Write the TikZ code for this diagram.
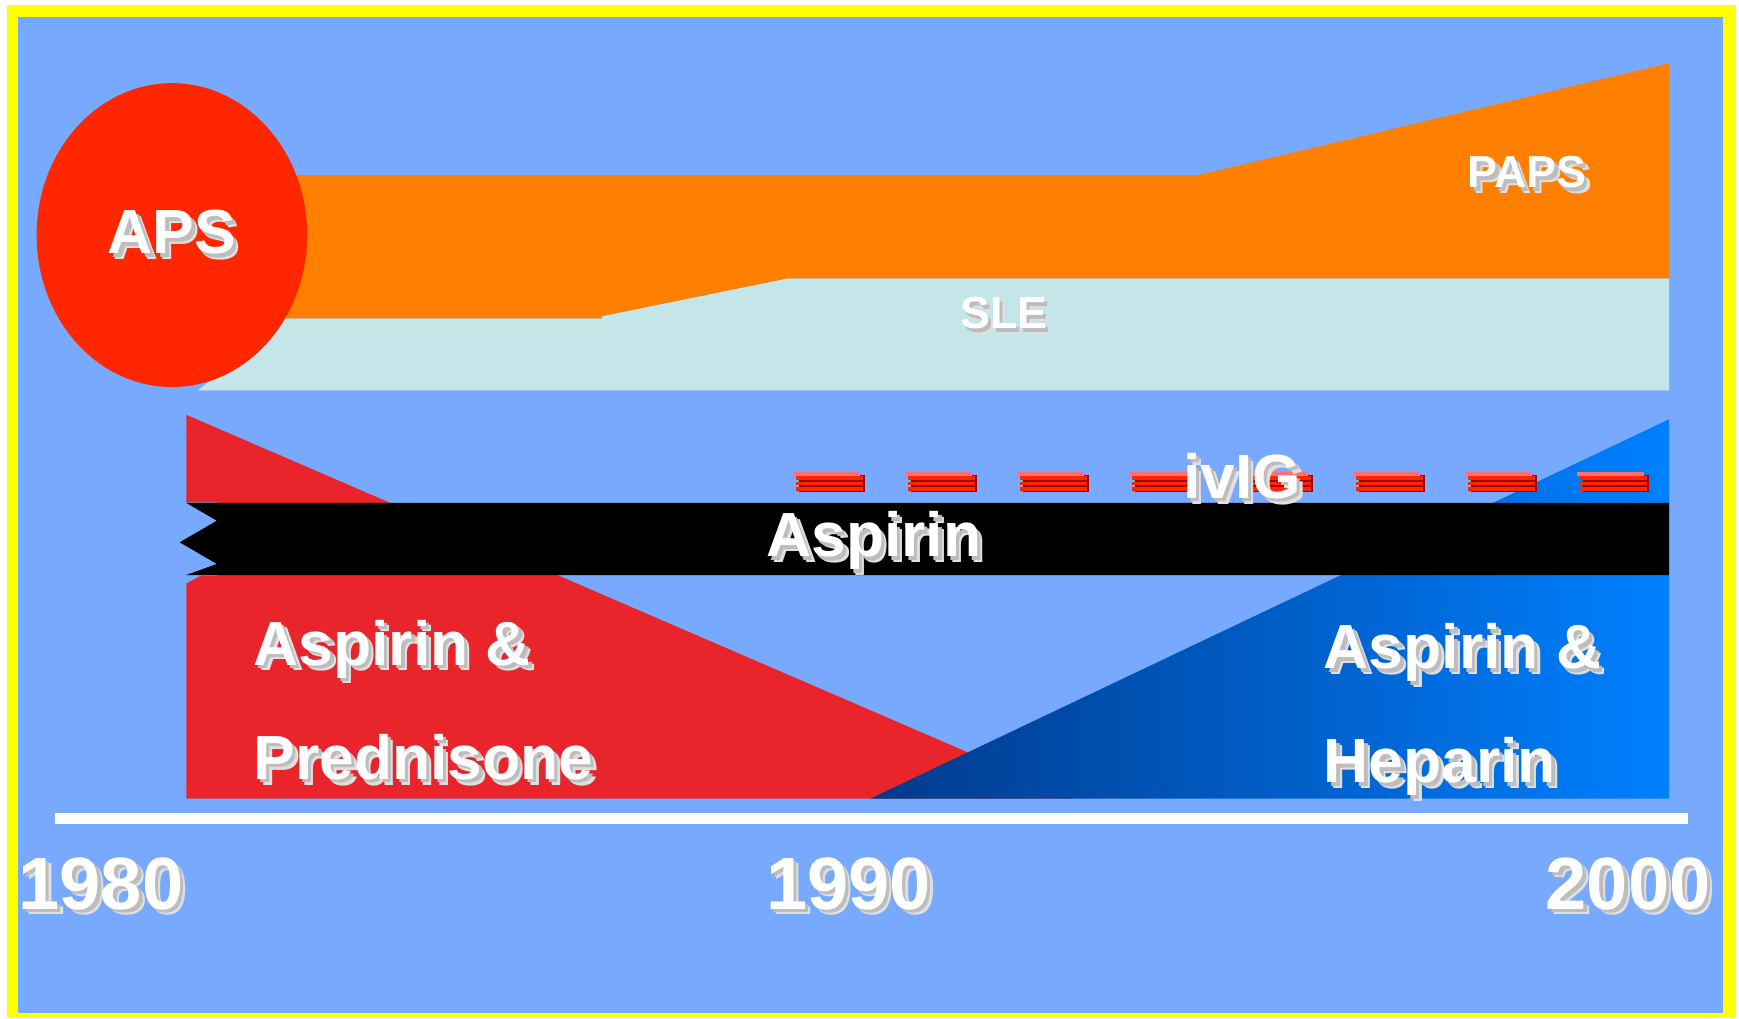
\documentclass[tikz,border=0pt]{standalone}
\usepackage{fontspec}
\setmainfont{Liberation Sans}
\usetikzlibrary{shapes.geometric}

\definecolor{slide}{RGB}{119,170,255}
\definecolor{frame}{RGB}{255,255,0}
\definecolor{apsred}{RGB}{255,38,0}
\definecolor{papsorange}{RGB}{255,127,0}
\definecolor{slecyan}{RGB}{196,230,232}
\definecolor{predred}{RGB}{233,36,42}
\definecolor{hepdark}{RGB}{0,58,140}
\definecolor{heplight}{RGB}{0,128,255}
\definecolor{dashpink}{RGB}{255,112,112}
\definecolor{dashdark}{RGB}{160,0,0}

% white text with a soft grey drop shadow
\newcommand{\shtxt}[1]{\makebox[0pt][l]{\hspace{0.5mm}\raisebox{-0.5mm}{\color{black!12}#1}}%
  \makebox[0pt][l]{\hspace{0.3mm}\raisebox{-0.3mm}{\color{black!26}#1}}#1}

\begin{document}
\begin{tikzpicture}[
  x=0.1mm, y=-0.1mm,
  lbl/.style={text=white,font=\bfseries\fontsize{16pt}{19pt}\selectfont,inner sep=0pt},
  bandlbl/.style={lbl,font=\bfseries\fontsize{11.5pt}{14pt}\selectfont},
  year/.style={lbl,font=\bfseries\fontsize{19pt}{22pt}\selectfont,anchor=base},
  ivdash/.style={dash pattern=on 6mm off 4.1mm}
]
  \useasboundingbox (0,0) rectangle (1568,918);
  % frame and slide
  \fill[frame] (6,4.5) rectangle (1565,918);
  \fill[slide] (16.5,15) rectangle (1554,913);

  % SLE and PAPS bands
  \fill[slecyan] (178,352) -- (215,325) -- (215,287) -- (543,287) -- (543,285)
    -- (710,251) -- (1505,251) -- (1505,352) -- cycle;
  \fill[papsorange] (215,158) -- (1080,158) -- (1505,57) -- (1505,251) -- (710,251)
    -- (543,285) -- (543,287) -- (215,287) -- cycle;
  \node[bandlbl] (sle) at (905,285) {\shtxt{SLE}};
  \node[bandlbl] (paps) at (1377,158) {\shtxt{PAPS}};
  \node[lbl,ellipse,fill=apsred,minimum width=24.4mm,minimum height=27.4mm] (aps)
    at (155,212) {\shtxt{APS}\hspace{1.8mm}};

  % treatments
  \fill[predred] (168,374) -- (969,720) -- (168,720) -- cycle;
  \shade[left color=hepdark,right color=heplight] (785,720) -- (1505,378) -- (1505,720) -- cycle;
  \fill[slide] (166,453) -- (196,453) -- (196,519) -- (181,519) -- (168,526) -- (166,526) -- cycle;
  \fill[black] (168,453.5) -- (1505,453.5) -- (1505,518.5) -- (168,518.5) -- (195.5,508.5)
    -- (162,489) -- (195.5,469.5) -- cycle;

  % ivIG dashes
  \coordinate (ivL) at (718,436);
  \coordinate (ivR) at (1485,436);
  \draw[ivdash,dashdark,line width=1.6mm] ([xshift=0.2mm]ivL) -- ([xshift=0.2mm]ivR);
  \draw[ivdash,dashpink,line width=0.3mm] ([xshift=-0.3mm,yshift=0.85mm]ivL)
    -- ([xshift=-0.3mm,yshift=0.85mm]ivR);
  \foreach \dy in {0.5,0,-0.5}
    \draw[ivdash,apsred,line width=0.33mm] ([yshift=\dy mm]ivL) -- ([yshift=\dy mm]ivR);
  \node[lbl] (ivig) at (1120,432) {\shtxt{ivIG}};
  \node[lbl] (aspirin) at (788,490) {\shtxt{Aspirin}};

  \node[lbl,anchor=base west] (aspPred) at (228,600) {\shtxt{Aspirin \&}};
  \node[lbl,anchor=base west] (pred) at ([yshift=-10.3mm]aspPred.base west) {\shtxt{Prednisone}};
  \node[lbl,anchor=base west] (aspHep) at (1193,603) {\shtxt{Aspirin \&}};
  \node[lbl,anchor=base west] (hep) at ([yshift=-10.3mm]aspHep.base west) {\shtxt{Heparin}};

  % time axis
  \coordinate (axL) at (50,738);
  \coordinate (axR) at (1522,738);
  \draw[white,line width=1.05mm] (axL) -- (axR);
  \node[year] (y1980) at (91,820) {\shtxt{1980}};
  \node[year] (y1990) at (765,820) {\shtxt{1990}};
  \node[year] (y2000) at (1468,820) {\shtxt{2000}};
\end{tikzpicture}
\end{document}
